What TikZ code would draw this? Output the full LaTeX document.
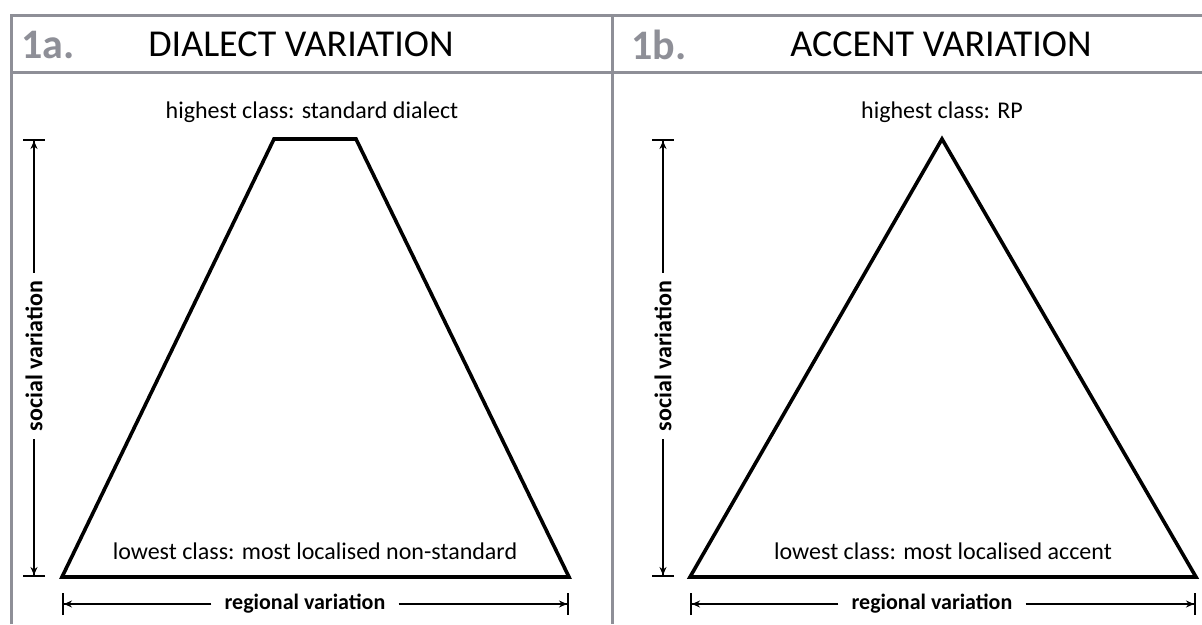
\documentclass[tikz,border=0pt]{standalone}
\usepackage{fontspec}
\setmainfont{Carlito}
\usetikzlibrary{arrows.meta}
\definecolor{framegray}{HTML}{8E8F97}
\tikzset{
  frameline/.style={draw=framegray, line width=3pt},
  shape3/.style={draw=black, line width=3.6pt, line join=miter},
  headnum/.style={anchor=west, text=framegray, inner sep=0pt, font=\fontsize{42}{46}\selectfont\bfseries},
  headtitle/.style={inner sep=0pt, font=\fontsize{38}{42}\selectfont},
  classlab/.style={inner sep=0pt, font=\fontsize{24}{28}\selectfont},
  axislab/.style={inner sep=8pt, font=\fontsize{24}{28}\selectfont\bfseries},
  reglab/.style={inner xsep=13pt, inner ysep=4pt, font=\fontsize{22}{26}\selectfont\bfseries},
  axisline/.style={draw=black, line width=2pt, -{Stealth[length=8pt,width=7pt]Bar[width=22pt,line width=2pt]}}
}
\begin{document}
\begin{tikzpicture}[x=1pt,y=-1pt]
\useasboundingbox[fill=white] (0,0) rectangle (1202,624);
% frame
\draw[frameline] (11,624) -- (11,15) -- (1202,15);
\draw[frameline] (11,72) -- (1202,72);
\draw[frameline] (612,15) -- (612,624);
% headers
\node[headnum] (na) at (21,45) {1a.};
\node[headtitle] (ta) at (301,44) {DIALECT VARIATION};
\node[headnum] (nb) at (631,45) {1b.};
\node[headtitle] (tb) at (941,44) {ACCENT VARIATION};
% trapezoid
\coordinate (a1) at (62,577);
\coordinate (a2) at (569,577);
\coordinate (a3) at (356,139);
\coordinate (a4) at (274,139);
\draw[shape3] (a1) -- (a2) -- (a3) -- (a4) -- cycle;
% triangle
\coordinate (b1) at (690,577);
\coordinate (b2) at (1196,577);
\coordinate (b3) at (942,139);
\draw[shape3] (b1) -- (b2) -- (b3) -- cycle;
% class labels
\node[classlab] (ha) at (312,112) {highest class: standard dialect};
\node[classlab] (la) at (315,551) {lowest class: most localised non-standard};
\node[classlab] (hb) at (942,112) {highest class: RP};
\node[classlab] (lb) at (943,551) {lowest class: most localised accent};
% social axes
\node[axislab, rotate=90] (sa) at (34,356) {social variation};
\coordinate (sat) at (34,139);
\coordinate (sab) at (34,577);
\draw[axisline] (sa) -- (sat);
\draw[axisline] (sa) -- (sab);
\node[axislab, rotate=90] (sb) at (663,356) {social variation};
\coordinate (sbt) at (663,139);
\coordinate (sbb) at (663,577);
\draw[axisline] (sb) -- (sbt);
\draw[axisline] (sb) -- (sbb);
% regional axes
\node[reglab] (ra) at (305,604) {regional variation};
\coordinate (ral) at (62,604);
\coordinate (rar) at (569,604);
\draw[axisline] (ra) -- (ral);
\draw[axisline] (ra) -- (rar);
\node[reglab] (rb) at (932,604) {regional variation};
\coordinate (rbl) at (690,604);
\coordinate (rbr) at (1196,604);
\draw[axisline] (rb) -- (rbl);
\draw[axisline] (rb) -- (rbr);
\end{tikzpicture}
\end{document}
